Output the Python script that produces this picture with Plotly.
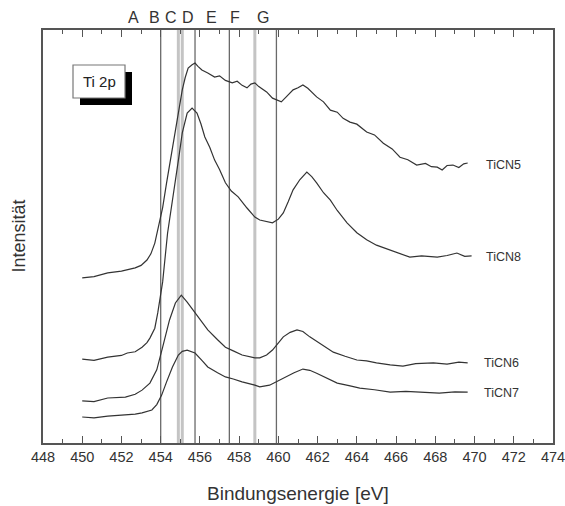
import plotly.graph_objects as go

# Ti 2p XPS spectra (binding energy in eV, intensity in arbitrary units, stacked)
ticn5_e = [450.0, 450.6, 451.3, 452.0, 452.7, 453.0, 453.3, 453.5, 453.7, 453.95, 454.1, 454.3, 454.5,
           454.75, 454.95, 455.1, 455.25, 455.4, 455.6, 455.75, 455.9, 456.1, 456.4, 456.75, 457.0,
           457.3, 457.65, 457.9, 458.15, 458.4, 458.6, 458.8, 459.0, 459.2, 459.4, 459.7, 459.95,
           460.15, 460.4, 460.75, 461.0, 461.25, 461.5, 461.95, 462.3, 462.65, 463.0, 463.3, 463.65,
           464.0, 464.5, 464.9, 465.35, 465.8, 466.2, 466.6, 467.05, 467.5, 467.8, 468.1, 468.35,
           468.6, 468.9, 469.2, 469.45, 469.65]
ticn5_i = [40.0, 40.3, 41.2, 41.6, 42.4, 43.0, 44.3, 45.8, 48.4, 53.3, 57.0, 63.0, 68.5,
           75.1, 80.5, 85.5, 88.5, 90.8, 91.6, 92.0, 91.2, 90.3, 89.6, 88.6, 88.9,
           87.8, 87.2, 87.6, 86.6, 86.0, 86.9, 87.2, 86.3, 85.6, 85.0, 83.5, 82.9,
           82.6, 83.8, 85.5, 86.0, 86.7, 85.9, 83.8, 82.6, 80.6, 80.1, 78.6, 77.7,
           77.2, 75.3, 74.6, 72.6, 71.2, 69.2, 68.6, 67.3, 67.7, 66.9, 66.8, 66.1,
           67.2, 67.3, 66.7, 67.6, 67.8]

ticn8_e = [450.0, 450.6, 451.3, 452.0, 452.3, 452.7, 453.05, 453.3, 453.45, 453.7, 453.85, 454.0,
           454.1, 454.35, 454.55, 454.75, 454.95, 455.1, 455.35, 455.6, 455.85, 456.05, 456.25,
           456.5, 456.75, 457.0, 457.3, 457.6, 457.95, 458.4, 458.8, 459.05, 459.4, 459.7, 460.0,
           460.25, 460.5, 460.75, 461.1, 461.45, 461.7, 461.95, 462.3, 462.65, 463.0, 463.5,
           464.0, 464.5, 465.0, 465.7, 466.2, 466.7, 467.3, 468.1, 468.6, 469.1, 469.5, 469.85]
ticn8_i = [20.3, 20.0, 20.8, 21.2, 21.8, 22.1, 23.2, 24.3, 25.4, 27.8, 31.5, 35.4,
           39.0, 50.8, 57.0, 63.0, 70.0, 75.1, 79.9, 81.1, 79.9, 77.3, 74.1,
           71.6, 68.5, 66.2, 63.0, 61.0, 59.6, 56.9, 54.7, 54.0, 53.6, 53.3, 54.2,
           55.7, 58.4, 61.3, 63.8, 65.6, 64.5, 63.0, 60.6, 58.8, 56.3, 53.3,
           50.9, 49.2, 47.9, 46.7, 45.9, 45.0, 45.3, 45.0, 45.4, 46.0, 45.2, 45.3]

ticn6_e = [450.0, 450.6, 451.3, 452.2, 452.7, 453.05, 453.45, 453.8, 454.1, 454.45, 454.75,
           455.05, 455.35, 455.75, 456.1, 456.4, 456.9, 457.3, 457.7, 458.15, 458.8, 459.05,
           459.4, 459.7, 460.25, 460.6, 460.95, 461.25, 461.6, 462.2, 462.8, 463.4, 464.0,
           464.5, 465.0, 465.7, 466.35, 467.0, 467.9, 468.6, 469.2, 469.65]
ticn6_i = [10.2, 10.0, 10.9, 11.1, 11.8, 12.8, 14.5, 17.7, 23.2, 29.8, 33.9,
           35.8, 34.1, 31.5, 29.2, 27.4, 25.0, 23.2, 22.3, 21.3, 20.6, 20.6,
           21.3, 22.5, 25.7, 26.8, 27.4, 27.0, 25.7, 23.8, 22.0, 21.0, 20.1,
           19.9, 19.4, 18.9, 18.6, 19.2, 19.4, 19.1, 19.6, 19.4]

ticn7_e = [450.0, 450.6, 451.3, 452.2, 452.7, 453.05, 453.55, 453.8, 454.05, 454.3, 454.6,
           454.9, 455.1, 455.35, 455.75, 456.1, 456.4, 456.9, 457.3, 457.7, 458.15, 458.8,
           459.05, 459.55, 460.25, 460.8, 461.25, 461.6, 461.95, 462.5, 463.0, 463.6, 464.15,
           464.9, 465.7, 466.5, 467.35, 468.2, 469.0, 469.65]
ticn7_i = [6.3, 6.1, 6.5, 6.8, 7.0, 7.3, 8.0, 9.3, 11.6, 14.8, 18.4,
           21.3, 22.2, 22.5, 21.8, 20.0, 18.4, 17.0, 16.0, 15.5, 14.8, 14.0,
           13.6, 14.0, 15.7, 17.0, 17.9, 17.6, 16.9, 15.6, 14.5, 13.9, 13.3,
           12.9, 12.3, 12.5, 12.3, 12.1, 12.4, 12.3]

series_names = ["TiCN5", "TiCN8", "TiCN6", "TiCN7"]
series_e = [ticn5_e, ticn8_e, ticn6_e, ticn7_e]
series_i = [ticn5_i, ticn8_i, ticn6_i, ticn7_i]
label_x = [470.5, 470.5, 470.4, 470.4]
label_y = [67.3, 45.0, 19.4, 12.1]

# Reference energies marked by vertical lines
marker_names = ["A", "B", "C", "D", "E", "F", "G"]
marker_e = [454.0, 454.9, 455.1, 455.75, 457.5, 458.8, 459.9]
marker_gray = [False, True, True, False, False, True, False]
marker_label_x = [452.6, 453.7, 454.5, 455.4, 456.6, 457.8, 459.2]

x_ticks = list(range(448, 475, 2))

FONT = "Liberation Sans, Arial, Helvetica, sans-serif"
W, H = 565, 506
ML, MR, MT, MB = 43, 12, 30, 63
PW, PH = W - ML - MR, H - MT - MB


def paper_x(px):
    return (px - ML) / PW


def paper_y(py):
    return (H - MB - py) / PH


fig = go.Figure()
for name, e, inten in zip(series_names, series_e, series_i):
    fig.add_trace(go.Scatter(x=e, y=inten, mode="lines", name=name,
                             line=dict(color="#333333", width=1.2),
                             showlegend=False, hoverinfo="x+y+name"))

shapes = []
for e, gray in zip(marker_e, marker_gray):
    shapes.append(dict(type="line", xref="x", yref="paper", x0=e, x1=e, y0=0, y1=1,
                       layer="below",
                       line=dict(color="#c4c4c4" if gray else "#6a6a6a",
                                 width=3 if gray else 1.3)))

# "Ti 2p" box with drop shadow
shapes.append(dict(type="rect", xref="paper", yref="paper",
                   x0=paper_x(80), x1=paper_x(132), y0=paper_y(105), y1=paper_y(72),
                   fillcolor="black", line=dict(width=0)))
shapes.append(dict(type="rect", xref="paper", yref="paper",
                   x0=paper_x(73), x1=paper_x(125), y0=paper_y(98), y1=paper_y(65),
                   fillcolor="white", line=dict(color="#777777", width=1.2)))

annotations = []
annotations.append(dict(text="Ti 2p", xref="paper", yref="paper", x=paper_x(99), y=paper_y(81.5),
                        showarrow=False, xanchor="center", yanchor="middle",
                        font=dict(family=FONT, size=15, color="#222222")))
for name, lx, ly in zip(series_names, label_x, label_y):
    annotations.append(dict(text=name, x=lx, y=ly, xref="x", yref="y", showarrow=False,
                            xanchor="left", yanchor="middle",
                            font=dict(family=FONT, size=12.5, color="#333333")))
for name, lx in zip(marker_names, marker_label_x):
    annotations.append(dict(text=name, x=lx, y=paper_y(17.5), xref="x", yref="paper",
                            showarrow=False, xanchor="center", yanchor="middle",
                            font=dict(family=FONT, size=16, color="#333333")))
annotations.append(dict(text="Bindungsenergie [eV]", xref="paper", yref="paper",
                        x=0.5, y=paper_y(493), showarrow=False,
                        xanchor="center", yanchor="middle",
                        font=dict(family=FONT, size=19, color="#333333")))
annotations.append(dict(text="Intensität", xref="paper", yref="paper",
                        x=paper_x(18), y=0.5, showarrow=False, textangle=-90,
                        xanchor="center", yanchor="middle",
                        font=dict(family=FONT, size=18, color="#333333")))

fig.update_layout(
    width=W, height=H,
    margin=dict(l=ML, r=MR, t=MT, b=MB, autoexpand=False),
    paper_bgcolor="white", plot_bgcolor="white",
    shapes=shapes, annotations=annotations,
    xaxis=dict(range=[448, 474], tickmode="array", tickvals=x_ticks,
               ticktext=[str(t) for t in x_ticks], automargin=False,
               ticklabeloverflow="allow",
               ticks="inside", ticklen=7, tickwidth=1.3, tickcolor="#555555",
               minor=dict(dtick=1, ticks="inside", ticklen=4, tickwidth=1.1,
                          tickcolor="#555555", showgrid=False),
               showline=True, linecolor="#555555", linewidth=1.5, mirror="ticks",
               showgrid=False, zeroline=False,
               tickfont=dict(family=FONT, size=14.5, color="#333333")),
    yaxis=dict(range=[0, 100], showticklabels=False, ticks="", automargin=False,
               showline=True, linecolor="#555555", linewidth=1.5, mirror=True,
               showgrid=False, zeroline=False),
)

fig.write_html("out.html")
